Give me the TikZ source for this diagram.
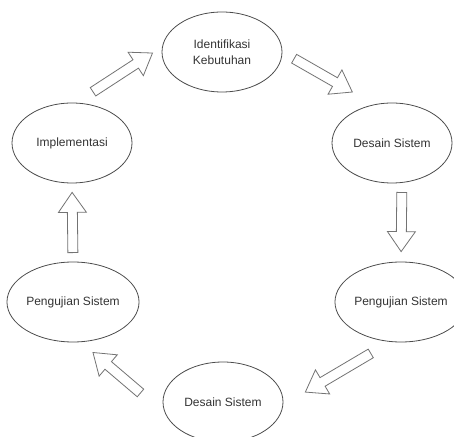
\documentclass[tikz,border=0pt]{standalone}
\usepackage{fontspec}
\setmainfont{Liberation Sans}
\usetikzlibrary{calc,shapes.geometric}

\tikzset{
  phase/.style={ellipse,draw=black!70,line width=0.8pt,minimum width=120pt,minimum height=80pt,
                inner sep=0pt,align=center,text=black!80,font=\fontsize{12}{16}\selectfont},
  blockline/.style={draw=black!55,line width=0.8pt,fill=white,line join=miter}
}

% hollow block arrow from node #1 to node #2, ends pulled back by #3 and #4
\newcommand{\blockarrow}[4]{%
  \coordinate (bt) at ($(#1)!#3!(#2)$);
  \coordinate (bp) at ($(#2)!#4!(#1)$);
  \coordinate (bh) at ($(bp)!20pt!(bt)$);
  \draw[blockline] ($(bt)!5pt!90:(bp)$) -- ($(bh)!5pt!90:(bp)$) -- ($(bh)!14pt!90:(bp)$)
                   -- (bp) -- ($(bh)!14pt!-90:(bp)$) -- ($(bh)!5pt!-90:(bp)$)
                   -- ($(bt)!5pt!-90:(bp)$) -- cycle;}

\begin{document}
\begin{tikzpicture}[x=1pt,y=1pt]
        \useasboundingbox (0,0) rectangle (454,436);

        \node (ident)   at (222,384) [phase] {Identifikasi\\Kebutuhan};
        \node (desain1) at (392,293) [phase] {Desain Sistem};
        \node (uji1)    at (401,134) [phase] {Pengujian Sistem};
        \node (desain2) at (223,34)  [phase] {Desain Sistem};
        \node (uji2)    at (73,134)  [phase] {Pengujian Sistem};
        \node (impl)    at (72,293)  [phase] {Implementasi};

        \blockarrow{impl.84}{ident.175}{20pt}{11.5pt}
        \blockarrow{ident.east}{desain1.115}{13.5pt}{25pt}
        \blockarrow{desain1.-76}{uji1.north}{9.6pt}{10pt}
        \blockarrow{uji1.-105}{desain2.-3}{22.7pt}{25.7pt}
        \blockarrow{desain2.-168}{uji2.-79}{32.8pt}{16pt}
        \blockarrow{uji2.north}{impl.south}{9pt}{9pt}
\end{tikzpicture}
\end{document}
